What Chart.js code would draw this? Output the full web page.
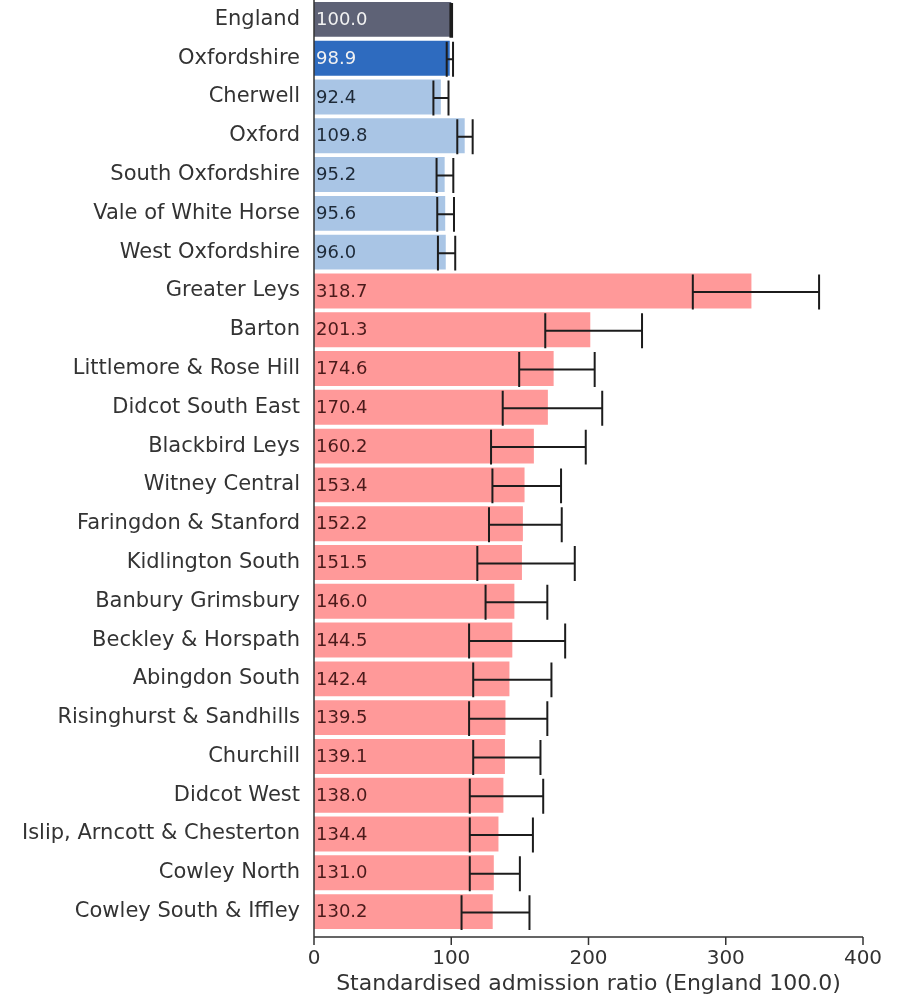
<!DOCTYPE html>
<html>
<head>
<meta charset="utf-8">
<title>Standardised admission ratio</title>
<script src="https://cdn.jsdelivr.net/npm/chart.js@4.4.0/dist/chart.umd.min.js"></script>
<style>
  html, body { margin: 0; background: #fff; }
  #wrap { width: 904px; height: 997px; position: relative; }
</style>
</head>
<body>
<div id="wrap"><canvas id="sarChart"></canvas></div>
<script>
  "use strict";

  const areas = [
    "England", "Oxfordshire", "Cherwell", "Oxford", "South Oxfordshire",
    "Vale of White Horse", "West Oxfordshire", "Greater Leys", "Barton",
    "Littlemore & Rose Hill", "Didcot South East", "Blackbird Leys",
    "Witney Central", "Faringdon & Stanford", "Kidlington South",
    "Banbury Grimsbury", "Beckley & Horspath", "Abingdon South",
    "Risinghurst & Sandhills", "Churchill", "Didcot West",
    "Islip, Arncott & Chesterton", "Cowley North", "Cowley South & Iffley",
  ];
  const ratios = [
    100.0, 98.9, 92.4, 109.8, 95.2, 95.6, 96.0, 318.7, 201.3, 174.6, 170.4,
    160.2, 153.4, 152.2, 151.5, 146.0, 144.5, 142.4, 139.5, 139.1, 138.0,
    134.4, 131.0, 130.2,
  ];
  const lowerCI = [
    99.4, 96.7, 87.0, 104.4, 89.3, 89.8, 90.3, 276.0, 168.5, 149.5, 137.5,
    129.0, 130.0, 127.5, 119.0, 125.0, 113.0, 116.0, 113.0, 116.0, 113.5,
    113.5, 113.5, 107.5,
  ];
  const upperCI = [
    100.6, 101.3, 98.0, 115.6, 101.5, 102.0, 102.9, 368.0, 239.0, 204.5, 210.0,
    198.0, 180.0, 180.5, 190.0, 170.0, 183.0, 173.0, 170.0, 165.0, 167.0,
    159.5, 150.0, 157.0,
  ];
  const areaLevel = [
    "england", "county", "district", "district", "district", "district",
    "district", "ward", "ward", "ward", "ward", "ward", "ward", "ward", "ward",
    "ward", "ward", "ward", "ward", "ward", "ward", "ward", "ward", "ward",
  ];
  const xTicks = [0, 100, 200, 300, 400];

  const FONT = "'DejaVu Sans', sans-serif";
  const levelFill = { england: "#5e6276", county: "#2e6bbf", district: "#a9c5e5", ward: "#ff9999" };
  const levelText = { england: "#f2f2f2", county: "#f2f2f2", district: "#1e2a38", ward: "#4a1a1a" };

  // error bars + value labels drawn on top of the bars
  const barExtras = {
    id: "barExtras",
    afterDatasetsDraw(chart) {
      const ctx = chart.ctx;
      const x = chart.scales.x;
      const meta = chart.getDatasetMeta(0);
      ctx.save();
      meta.data.forEach((bar, i) => {
        const cy = bar.y;
        const half = bar.height / 2;
        const x0 = x.getPixelForValue(lowerCI[i]);
        const x1 = x.getPixelForValue(upperCI[i]);
        ctx.strokeStyle = "#1c1c1c";
        ctx.lineWidth = 2;
        ctx.beginPath();
        ctx.moveTo(x0, cy + 1);
        ctx.lineTo(x1, cy + 1);
        ctx.moveTo(x0, cy - half + 1);
        ctx.lineTo(x0, cy + half + 1);
        ctx.moveTo(x1, cy - half + 1);
        ctx.lineTo(x1, cy + half + 1);
        ctx.stroke();

        ctx.fillStyle = levelText[areaLevel[i]];
        ctx.font = "18px " + FONT;
        ctx.textAlign = "left";
        ctx.textBaseline = "middle";
        ctx.fillText(ratios[i].toFixed(1), x.getPixelForValue(0) + 2, cy + 1);
      });
      ctx.restore();
    },
  };

  // axis lines sit a few pixels below the last bar
  const axisLines = {
    id: "axisLines",
    afterDraw(chart) {
      const ctx = chart.ctx;
      const area = chart.chartArea;
      const x = chart.scales.x;
      const yAxis = area.bottom + 6;
      ctx.save();
      ctx.strokeStyle = "#333";
      ctx.lineWidth = 1.5;
      ctx.beginPath();
      ctx.moveTo(area.left, area.top);
      ctx.lineTo(area.left, yAxis);
      ctx.lineTo(x.getPixelForValue(xTicks[xTicks.length - 1]), yAxis);
      xTicks.forEach((v) => {
        const px = x.getPixelForValue(v);
        ctx.moveTo(px, yAxis);
        ctx.lineTo(px, yAxis + 8);
      });
      ctx.stroke();
      ctx.restore();
    },
  };

  new Chart(document.getElementById("sarChart"), {
    type: "bar",
    data: {
      labels: areas,
      datasets: [
        {
          data: ratios,
          backgroundColor: areaLevel.map((l) => levelFill[l]),
          borderWidth: 0,
          barPercentage: 0.9,
          categoryPercentage: 1.0,
        },
      ],
    },
    options: {
      indexAxis: "y",
      responsive: true,
      maintainAspectRatio: false,
      animation: false,
      layout: { padding: { top: 0, right: 41, bottom: 0, left: 0 } },
      plugins: {
        legend: { display: false },
        tooltip: { enabled: false },
      },
      scales: {
        x: {
          min: 0,
          max: 400,
          afterBuildTicks: (s) => { s.ticks = xTicks.map((v) => ({ value: v })); },
          afterFit: (s) => { s.height = 66; },
          grid: { display: false, drawTicks: false },
          border: { display: false },
          ticks: { color: "#333", padding: 16, font: { family: FONT, size: 20 } },
          title: {
            display: true,
            text: "Standardised admission ratio (England 100.0)",
            color: "#333",
            font: { family: FONT, size: 22 },
            padding: { top: 0, bottom: 0 },
          },
        },
        y: {
          afterFit: (s) => {
            s.width = 314;
            s.paddingTop = 0;
            s.paddingBottom = 0;
          },
          grid: { display: false, drawTicks: false },
          border: { display: false },
          ticks: { color: "#333", padding: 14, font: { family: FONT, size: 21 } },
        },
      },
    },
    plugins: [barExtras, axisLines],
  });
</script>
</body>
</html>
